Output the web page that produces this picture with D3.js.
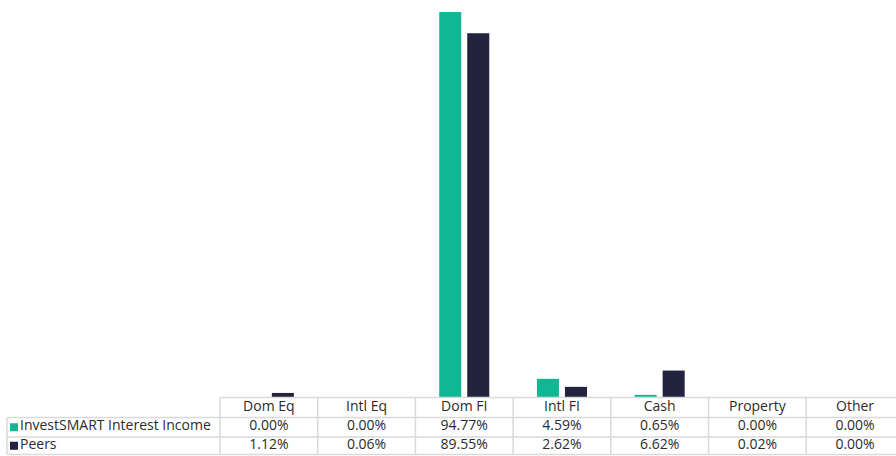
<!DOCTYPE html>
<html>
<head>
<meta charset="utf-8">
<script src="https://cdn.jsdelivr.net/npm/d3@7"></script>
<style>
  body { margin: 0; background: #fff; }
  svg text { font-family: "Open Sans", sans-serif; fill: #2b2b2b; font-size: 14px; }
</style>
</head>
<body>
<div class="visData"></div>
<script>
const categories = ["Dom Eq", "Intl Eq", "Dom FI", "Intl FI", "Cash", "Property", "Other"];
const seriesNames = ["InvestSMART Interest Income", "Peers"];
const fundValues = [0.00, 0.00, 94.77, 4.59, 0.65, 0.00, 0.00];
const peerValues = [1.12, 0.06, 89.55, 2.62, 6.62, 0.02, 0.00];
const colours = ["#11b795", "#24233f"];

const w = 896;
const h = 456;
const left = 220;
const step = 97.7;
const baseY = 397.5;
// table row edges: header, series 1, series 2
const rowEdges = [397.5, 417.5, 437, 454.5];

const svg = d3
  .select(".visData")
  .append("svg")
  .attr("width", w)
  .attr("height", h);

const series = [fundValues, peerValues];

//scales
const x0 = d3
  .scaleBand()
  .domain(categories)
  .range([left, left + step * categories.length]);

const x1 = d3
  .scaleBand()
  .domain(seriesNames)
  .range([0, x0.bandwidth()])
  .paddingInner(0.214)
  .paddingOuter(0.85);

const yScale = d3.scaleLinear().domain([0, 94.77]).range([baseY, 12]);

// bars
const groups = svg
  .selectAll("g.cat")
  .data(categories)
  .enter()
  .append("g")
  .attr("class", "cat")
  .attr("transform", (d) => `translate(${x0(d)},0)`);

groups
  .selectAll("rect")
  .data((d, i) => seriesNames.map((s, j) => ({ s: s, v: series[j][i], j: j })))
  .enter()
  .append("rect")
  .attr("x", (d) => x1(d.s))
  .attr("y", (d) => yScale(d.v))
  .attr("width", x1.bandwidth())
  .attr("height", (d) => baseY - yScale(d.v))
  .style("fill", (d) => colours[d.j]);

// table
const grid = "#d9d9d9";
const tableRight = left + step * categories.length;
const table = svg.append("g").attr("class", "table");
const baseline = (r) => rowEdges[r] + (rowEdges[r + 1] - rowEdges[r]) * 0.66;

// horizontal lines
rowEdges.forEach((y, r) => {
  table.append("line")
    .attr("x1", r === 0 ? left : 7).attr("x2", tableRight)
    .attr("y1", y).attr("y2", y)
    .attr("stroke", grid).attr("stroke-width", 1.5);
});
// vertical lines
table.append("line")
  .attr("x1", 7).attr("x2", 7)
  .attr("y1", rowEdges[1]).attr("y2", rowEdges[3])
  .attr("stroke", grid).attr("stroke-width", 1.5);
categories.forEach((c) => {
  table.append("line")
    .attr("x1", x0(c)).attr("x2", x0(c))
    .attr("y1", rowEdges[0]).attr("y2", rowEdges[3])
    .attr("stroke", grid).attr("stroke-width", 1.5);
});

// header
table.selectAll("text.head")
  .data(categories)
  .enter()
  .append("text")
  .attr("class", "head")
  .attr("x", (d) => x0(d) + x0.bandwidth() / 2)
  .attr("y", baseline(0))
  .attr("text-anchor", "middle")
  .text((d) => d);

// rows
seriesNames.forEach((s, j) => {
  const r = j + 1;
  const mid = (rowEdges[r] + rowEdges[r + 1]) / 2;
  table.append("rect")
    .attr("x", 10).attr("y", mid - 4)
    .attr("width", 8).attr("height", 8)
    .style("fill", colours[j]);
  table.append("text")
    .attr("x", 20).attr("y", baseline(r))
    .text(s);
  table.selectAll("text.v" + j)
    .data(series[j])
    .enter()
    .append("text")
    .attr("class", "v" + j)
    .attr("x", (d, i) => x0(categories[i]) + x0.bandwidth() / 2)
    .attr("y", baseline(r))
    .attr("text-anchor", "middle")
    .text((d) => d.toFixed(2) + "%");
});
</script>
</body>
</html>
